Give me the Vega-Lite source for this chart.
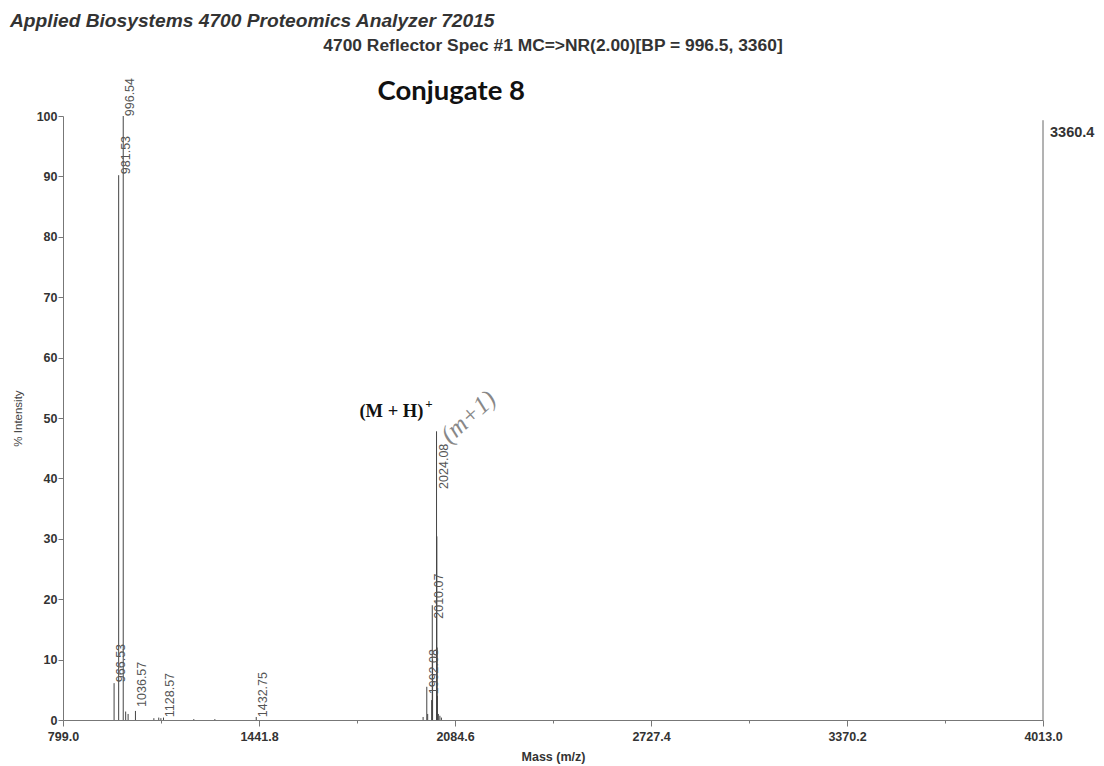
{
  "$schema": "https://vega.github.io/schema/vega-lite/v6.json",
  "width": 980,
  "height": 604,
  "autosize": {"type": "none"},
  "padding": {"left": 63, "top": 116, "right": 61, "bottom": 46},
  "background": "white",
  "config": {"view": {"stroke": null}, "font": "Liberation Sans"},
  "datasets": {
    "peaks": [
      {"mass": 966.53, "intensity": 6.1},
      {"mass": 981.53, "intensity": 90.2},
      {"mass": 996.54, "intensity": 100},
      {"mass": 1004.5, "intensity": 1.4},
      {"mass": 1012.5, "intensity": 1.0},
      {"mass": 1036.57, "intensity": 1.5},
      {"mass": 1097, "intensity": 0.3},
      {"mass": 1113, "intensity": 0.4},
      {"mass": 1120, "intensity": 0.3},
      {"mass": 1128.57, "intensity": 0.4},
      {"mass": 1228, "intensity": 0.15},
      {"mass": 1297, "intensity": 0.15},
      {"mass": 1432.75, "intensity": 0.5},
      {"mass": 1980, "intensity": 0.5},
      {"mass": 1992.08, "intensity": 5.5},
      {"mass": 1995, "intensity": 1.0},
      {"mass": 2008.06, "intensity": 3.3},
      {"mass": 2010.07, "intensity": 19},
      {"mass": 2011.07, "intensity": 10},
      {"mass": 2024.08, "intensity": 47.8},
      {"mass": 2025.08, "intensity": 30.4},
      {"mass": 2026.08, "intensity": 12},
      {"mass": 2027.08, "intensity": 4},
      {"mass": 2030, "intensity": 1.0},
      {"mass": 2035, "intensity": 0.7},
      {"mass": 2040, "intensity": 0.4}
    ],
    "labels": [
      {"label": "966.53", "mass": 966.53, "anchor": 6.1},
      {"label": "981.53", "mass": 981.53, "anchor": 90.2},
      {"label": "996.54", "mass": 996.54, "anchor": 99.8},
      {"label": "1036.57", "mass": 1036.57, "anchor": 2.0},
      {"label": "1128.57", "mass": 1128.57, "anchor": 0.3},
      {"label": "1432.75", "mass": 1432.75, "anchor": 0.3},
      {"label": "1992.08", "mass": 1992.08, "anchor": 4.1},
      {"label": "2010.07", "mass": 2010.07, "anchor": 16.6},
      {"label": "2024.08", "mass": 2024.08, "anchor": 38.1}
    ],
    "one": [{}]
  },
  "layer": [
    {
      "data": {"name": "peaks"},
      "mark": {"type": "rule", "color": "#444", "strokeWidth": 1},
      "encoding": {
        "x": {
          "field": "mass", "type": "quantitative",
          "scale": {"domain": [799, 4013], "nice": false, "zero": false},
          "axis": {
            "values": [799, 1120.4, 1441.8, 1763.2, 2084.6, 2406, 2727.4, 3048.8, 3370.2, 3691.6, 4013],
            "format": ".1f",
            "labelExpr": "indexof([1120.4,1763.2,2406,3048.8,3691.6], datum.value) >= 0 ? '' : datum.label",
            "tickSize": {"condition": {"test": "indexof([1120.4,1763.2,2406,3048.8,3691.6], datum.value) >= 0", "value": 3}, "value": 6},
            "labelFontWeight": "bold", "labelFontSize": 12.5, "labelColor": "#333",
            "labelOverlap": false, "labelFlush": false, "labelPadding": 4,
            "domainColor": "#777", "tickColor": "#777", "grid": false,
            "title": "Mass (m/z)", "titleFontSize": 12.5, "titleFontWeight": "bold", "titleColor": "#333", "titlePadding": 8
          }
        },
        "y": {
          "field": "intensity", "type": "quantitative",
          "scale": {"domain": [0, 100], "nice": false},
          "axis": {
            "values": [0, 5, 10, 15, 20, 25, 30, 35, 40, 45, 50, 55, 60, 65, 70, 75, 80, 85, 90, 95, 100],
            "labelExpr": "datum.value % 10 == 0 ? datum.label : ''",
            "tickSize": {"condition": {"test": "datum.value % 10 != 0", "value": 3}, "value": 5},
            "labelFontWeight": "bold", "labelFontSize": 12.5, "labelColor": "#333", "labelPadding": 1,
            "labelOverlap": false, "labelFlush": false,
            "domainColor": "#777", "tickColor": "#777", "grid": false,
            "title": "% Intensity", "titleFontSize": 11.5, "titleFontWeight": "normal", "titleColor": "#444", "titlePadding": 13
          }
        },
        "y2": {"datum": 0}
      }
    },
    {
      "data": {"name": "labels"},
      "mark": {"type": "text", "angle": 270, "align": "left", "baseline": "middle", "dx": 1, "dy": 7, "fontSize": 12.5, "color": "#555"},
      "encoding": {
        "x": {"field": "mass", "type": "quantitative"},
        "y": {"field": "anchor", "type": "quantitative"},
        "text": {"field": "label"}
      }
    },
    {
      "data": {"name": "one"},
      "mark": {"type": "rule", "color": "#666", "strokeWidth": 1},
      "encoding": {"x": {"datum": 4013}, "y": {"datum": 99.3}, "y2": {"datum": 0}}
    },
    {
      "data": {"name": "one"},
      "mark": {"type": "text", "align": "left", "baseline": "middle", "dx": 7, "fontSize": 14.5, "fontWeight": "bold", "color": "#333"},
      "encoding": {"x": {"datum": 4013}, "y": {"datum": 97.2}, "text": {"value": "3360.4"}}
    },
    {
      "data": {"name": "one"},
      "mark": {"type": "text", "align": "left", "baseline": "middle", "dx": -53, "fontSize": 19.2, "fontWeight": "bold", "fontStyle": "italic", "color": "#333"},
      "encoding": {"x": {"datum": 799}, "y": {"datum": 115.8}, "text": {"value": "Applied Biosystems 4700 Proteomics Analyzer 72015"}}
    },
    {
      "data": {"name": "one"},
      "mark": {"type": "text", "align": "center", "baseline": "middle", "fontSize": 17.4, "fontWeight": "bold", "color": "#333"},
      "encoding": {"x": {"datum": 2406}, "y": {"datum": 111.6}, "text": {"value": "4700 Reflector Spec #1 MC=>NR(2.00)[BP = 996.5, 3360]"}}
    },
    {
      "data": {"name": "one"},
      "mark": {"type": "text", "align": "center", "baseline": "middle", "fontSize": 27.5, "fontWeight": "bold", "font": "Lato", "color": "#111"},
      "encoding": {"x": {"datum": 2072.3}, "y": {"datum": 104.0}, "text": {"value": "Conjugate 8"}}
    },
    {
      "data": {"name": "one"},
      "mark": {"type": "text", "align": "center", "baseline": "middle", "fontSize": 18.5, "fontWeight": "bold", "font": "Liberation Serif", "color": "#111"},
      "encoding": {"x": {"datum": 1876}, "y": {"datum": 51.2}, "text": {"value": "(M + H)"}}
    },
    {
      "data": {"name": "one"},
      "mark": {"type": "text", "align": "center", "baseline": "middle", "fontSize": 13, "fontWeight": "bold", "font": "Liberation Serif", "color": "#111"},
      "encoding": {"x": {"datum": 1999}, "y": {"datum": 52.3}, "text": {"value": "+"}}
    },
    {
      "data": {"name": "one"},
      "mark": {"type": "text", "align": "center", "baseline": "middle", "fontSize": 25, "fontStyle": "italic", "font": "Liberation Serif", "color": "#888", "angle": 318},
      "encoding": {"x": {"datum": 2128}, "y": {"datum": 50.2}, "text": {"value": "(m+1)"}}
    }
  ]
}
